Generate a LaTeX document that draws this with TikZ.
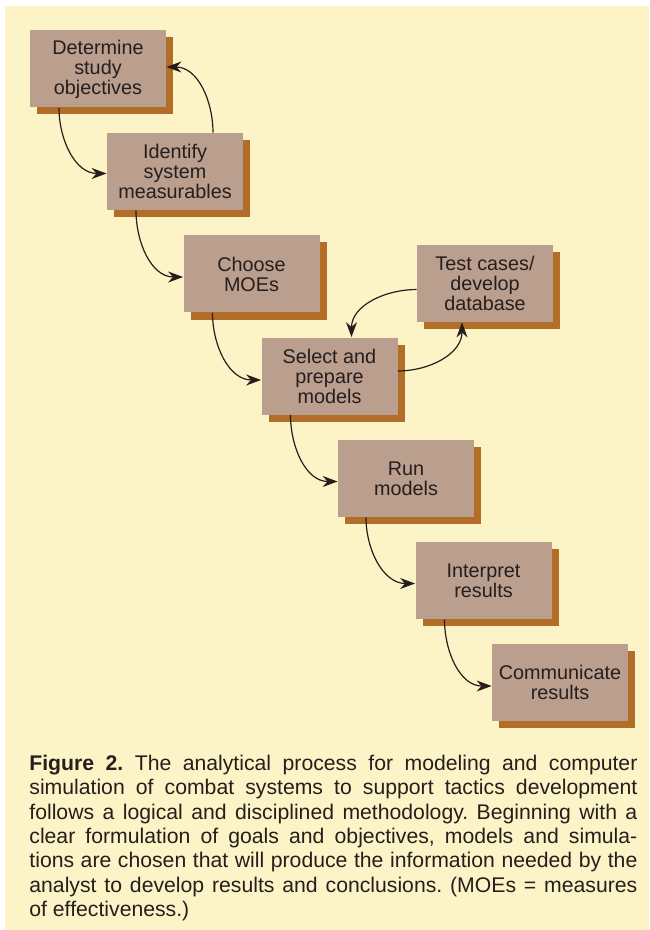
\documentclass[tikz,border=0pt]{standalone}
\usepackage{fontspec}
\setmainfont{Liberation Sans}
\usepackage{xcolor}
\usepackage{tikz}
\usetikzlibrary{arrows.meta}
\usetikzlibrary{shadows}
\definecolor{paper}{RGB}{252,244,198}
\definecolor{boxface}{RGB}{186,158,142}
\definecolor{boxshade}{RGB}{178,110,40}
\definecolor{ink}{RGB}{38,30,28}
\tikzset{
    boxtext/.style = {align=center, inner sep=0pt, text centered},
    task_node/.style = {boxtext, rectangle, fill=boxface, text=ink, minimum width=68pt, minimum height=38.5pt, font=\fontsize{9.9pt}{10pt}\selectfont, drop shadow={shadow xshift=3.5pt, shadow yshift=-3.5pt, fill=boxshade, opacity=1}},
    flow/.style = {->, line width=0.6pt, draw=ink},
    caption_text/.style = {anchor=north west, inner sep=0pt, text width=304pt, align=justify, text=ink, font=\fontsize{10.6pt}{12.2pt}\selectfont\frenchspacing}
}

\begin{document}
\begin{tikzpicture}
            [x=0.5pt, y=-0.5pt, >={Stealth[length=7.5pt,width=5.5pt]}]

            % paper
            \fill[white] (0,0) rectangle (649,930);
            \useasboundingbox (0,0) rectangle (649,930);
            \fill[paper] (5,6) rectangle (649,930);

            % process steps
            \node [task_node] (objectives) at (98,69) {Determine\\study\\objectives};
            \node [task_node] (measurables) at (175,171.5) {Identify\\system\\measurables};
            \node [task_node] (moes) at (251.5,274) {Choose\\MOEs};
            \node [task_node] (database) at (485,283.5) {Test cases/\\develop\\database};
            \node [task_node] (models) at (329.5,376) {Select and\\prepare\\models};
            \node [task_node] (run) at (406,478.5) {Run\\models};
            \node [task_node] (interpret) at (483.5,580.5) {Interpret\\results};
            \node [task_node] (communicate) at (560,682) {Communicate\\results};

            % connectors
            \draw [flow] ([xshift=-19.5pt]objectives.south) to[out=-90, in=180] ([yshift=-1pt]measurables.west);
            \draw [flow] ([xshift=19pt]measurables.north) to[out=90, in=0] ([yshift=1pt]objectives.east);
            \draw [flow] ([xshift=-19.5pt]measurables.south) to[out=-90, in=180] ([yshift=-1.5pt]moes.west);
            \draw [flow] ([xshift=-19.5pt]moes.south) to[out=-90, in=180] ([yshift=-2pt]models.west);
            \draw [flow] ([yshift=-3pt]database.west) to[out=180, in=90] ([xshift=11pt]models.north);
            \draw [flow] ([yshift=2.5pt]models.east) to[out=0, in=-90] ([xshift=-11.5pt]database.south);
            \draw [flow] ([xshift=-19.5pt]models.south) to[out=-90, in=180] ([yshift=-1.5pt]run.west);
            \draw [flow] ([xshift=-20pt]run.south) to[out=-90, in=180] ([yshift=-1.5pt]interpret.west);
            \draw [flow] ([xshift=-19.5pt]interpret.south) to[out=-90, in=180] ([yshift=-2pt]communicate.west);

            % caption
            \node [caption_text] (caption) at (29,754.5) {\textbf{Figure 2.} The analytical process for modeling and computer\linebreak
            simulation of combat systems to support tactics development\linebreak
            follows a logical and disciplined methodology. Beginning with a\linebreak
            clear formulation of goals and objectives, models and simula-\linebreak
            tions are chosen that will produce the information needed by the\linebreak
            analyst to develop results and conclusions. (MOEs = measures\linebreak
            of effectiveness.)};
        \end{tikzpicture}
\end{document}
